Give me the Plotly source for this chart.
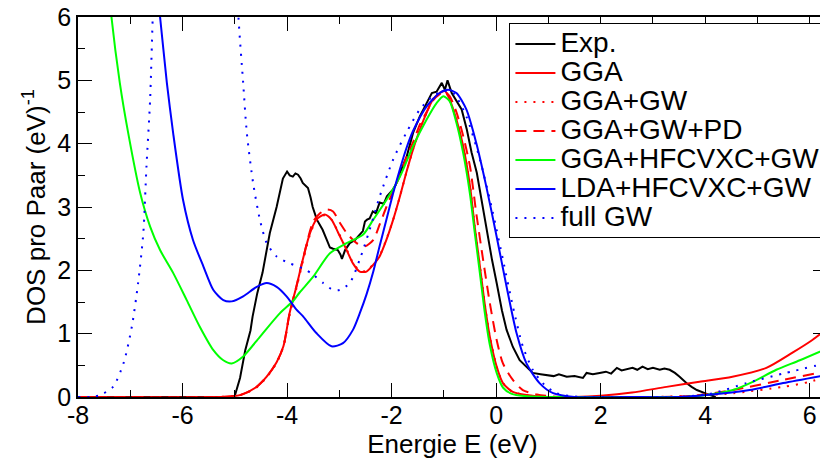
import plotly.graph_objects as go

# ---------------- data ----------------
exp_x = [-8.0, -5.05, -5.0, -4.9, -4.8, -4.7, -4.66, -4.57, -4.47, -4.40, -4.33, -4.20, -4.08, -4.0, -3.95,
         -3.89, -3.84, -3.79, -3.74, -3.70, -3.60, -3.55, -3.51, -3.43, -3.37, -3.32, -3.24, -3.18, -3.12,
         -3.03, -2.98, -2.95, -2.89, -2.80, -2.70, -2.61, -2.55, -2.51, -2.47, -2.42, -2.36, -2.30, -2.23,
         -2.15, -2.09, -1.98, -1.92, -1.84, -1.71, -1.59, -1.46, -1.33, -1.23, -1.14, -1.04, -0.98, -0.93,
         -0.85, -0.75, -0.66, -0.56, -0.47, -0.37, -0.28, -0.18, -0.08, 0.01, 0.11, 0.20, 0.32, 0.45, 0.59,
         0.70, 0.85, 0.97, 1.10, 1.20, 1.35, 1.50, 1.66, 1.73, 1.85, 1.98, 2.10, 2.20, 2.31, 2.40, 2.50,
         2.61, 2.70, 2.80, 2.90, 3.00, 3.13, 3.22, 3.32, 3.42, 3.51, 3.64, 3.74, 3.84, 4.03, 4.14, 4.20]
exp_y = [0.0, 0.0, 0.02, 0.30, 0.74, 1.05, 1.27, 1.64, 1.96, 2.27, 2.59, 3.00, 3.45, 3.56, 3.50,
         3.48, 3.53, 3.51, 3.45, 3.38, 3.30, 3.15, 3.00, 2.80, 2.72, 2.64, 2.48, 2.36, 2.34,
         2.32, 2.25, 2.18, 2.32, 2.43, 2.48, 2.56, 2.62, 2.77, 2.80, 2.82, 2.93, 2.90, 3.07,
         3.05, 3.17, 3.27, 3.35, 3.54, 3.80, 4.17, 4.43, 4.64, 4.80, 4.82, 4.96, 4.85, 5.00,
         4.80, 4.67, 4.54, 4.22, 3.86, 3.54, 3.11, 2.59, 2.17, 1.80, 1.37, 1.06, 0.79, 0.58, 0.46,
         0.38, 0.36, 0.35, 0.33, 0.36, 0.32, 0.33, 0.30, 0.38, 0.36, 0.38, 0.40, 0.37, 0.46, 0.42, 0.44,
         0.46, 0.43, 0.48, 0.44, 0.46, 0.43, 0.45, 0.43, 0.38, 0.32, 0.22, 0.16, 0.11, 0.05, 0.02, 0.0]

gga_x = [-8.0, -5.3, -4.9, -4.6, -4.39, -4.2, -4.07, -3.95, -3.82, -3.69, -3.56, -3.44, -3.28, -3.15,
         -3.02, -2.86, -2.74, -2.61, -2.48, -2.35, -2.23, -2.10, -1.97, -1.84, -1.72, -1.59, -1.46, -1.33,
         -1.21, -1.08, -0.98, -0.89, -0.76, -0.63, -0.50, -0.41, -0.31, -0.22, -0.12, 0.01, 0.13, 0.32,
         0.58, 1.0, 1.5, 2.0, 2.6, 3.26, 3.89, 4.52, 5.17, 5.67, 6.05, 6.4]
gga_y = [0.0, 0.0, 0.03, 0.15, 0.32, 0.55, 0.80, 1.33, 1.75, 2.20, 2.59, 2.80, 2.88, 2.80,
         2.59, 2.32, 2.11, 1.98, 1.98, 2.09, 2.22, 2.48, 2.80, 3.17, 3.54, 3.91, 4.22, 4.49,
         4.70, 4.80, 4.83, 4.70, 4.38, 3.96, 3.33, 2.69, 2.06, 1.48, 0.95, 0.48, 0.22, 0.08,
         0.03, 0.0, 0.0, 0.02, 0.07, 0.16, 0.24, 0.32, 0.46, 0.70, 0.90, 1.12]

ggagw_x = [-8.0, -5.3, -4.9, -4.6, -4.39, -4.2, -4.07, -3.95, -3.82, -3.69, -3.56, -3.44, -3.28, -3.15,
           -3.02, -2.86, -2.74, -2.61, -2.48, -2.35, -2.23, -2.10, -1.97, -1.84, -1.72, -1.59, -1.46, -1.33,
           -1.21, -1.08, -0.98, -0.89, -0.76, -0.63, -0.50, -0.41, -0.31, -0.22, -0.12, 0.01, 0.13, 0.32,
           0.58, 1.0, 2.0, 3.0, 3.8, 4.53, 5.49, 6.0, 6.4]
ggagw_y = [0.0, 0.0, 0.03, 0.14, 0.31, 0.54, 0.80, 1.30, 1.72, 2.17, 2.57, 2.79, 2.87, 2.80,
           2.60, 2.33, 2.12, 1.99, 1.99, 2.10, 2.23, 2.49, 2.80, 3.17, 3.54, 3.91, 4.22, 4.49,
           4.70, 4.80, 4.83, 4.70, 4.38, 3.96, 3.33, 2.69, 2.06, 1.48, 0.95, 0.48, 0.22, 0.08,
           0.03, 0.0, 0.0, 0.0, 0.02, 0.06, 0.16, 0.24, 0.34]

ggagwpd_x = [-8.0, -5.3, -4.9, -4.6, -4.39, -4.2, -4.07, -3.95, -3.82, -3.69, -3.50, -3.37, -3.24, -3.12,
             -2.99, -2.86, -2.67, -2.51, -2.35, -2.23, -2.10, -1.97, -1.84, -1.72, -1.59, -1.46, -1.33,
             -1.21, -1.08, -0.98, -0.89, -0.76, -0.63, -0.50, -0.38, -0.25, -0.12, 0.01, 0.13, 0.32,
             0.51, 0.78, 1.2, 2.0, 3.0, 3.8, 4.53, 5.49, 6.4]
ggagwpd_y = [0.0, 0.0, 0.03, 0.15, 0.32, 0.55, 0.80, 1.33, 1.75, 2.20, 2.77, 2.90, 2.96, 2.93,
             2.75, 2.59, 2.43, 2.38, 2.48, 2.72, 3.00, 3.25, 3.50, 3.78, 4.02, 4.30, 4.50,
             4.68, 4.78, 4.82, 4.75, 4.50, 4.12, 3.64, 2.90, 2.17, 1.48, 0.90, 0.53, 0.27,
             0.11, 0.04, 0.0, 0.0, 0.0, 0.02, 0.11, 0.27, 0.42]

ghf_x = [-7.5, -7.36, -7.20, -7.04, -6.81, -6.62, -6.43, -6.18, -5.92, -5.67, -5.41, -5.22, -5.06, -4.84,
         -4.52, -4.14, -3.88, -3.76, -3.50, -3.18, -2.86, -2.55, -2.35, -2.10, -1.84, -1.59, -1.33, -1.14,
         -1.01, -0.89, -0.76, -0.63, -0.50, -0.41, -0.31, -0.22, -0.12, 0.01, 0.13, 0.30, 0.60, 1.0, 2.0,
         3.0, 3.6, 4.02, 4.53, 4.91, 5.36, 5.81, 6.4]
ghf_y = [7.3, 6.0, 4.96, 4.17, 3.22, 2.69, 2.32, 1.96, 1.53, 1.11, 0.74, 0.58, 0.53, 0.64,
         0.95, 1.32, 1.52, 1.65, 1.90, 2.27, 2.43, 2.56, 2.80, 3.11, 3.48, 3.96, 4.38, 4.64,
         4.75, 4.67, 4.33, 3.85, 3.20, 2.60, 1.95, 1.35, 0.82, 0.38, 0.15, 0.05, 0.01, 0.0, 0.0,
         0.0, 0.0, 0.03, 0.11, 0.24, 0.43, 0.58, 0.79]

lhf_x = [-6.6, -6.43, -6.30, -6.18, -5.99, -5.80, -5.60, -5.41, -5.22, -5.06, -4.84, -4.58, -4.39, -4.20,
         -4.01, -3.82, -3.69, -3.44, -3.15, -2.93, -2.74, -2.61, -2.48, -2.35, -2.23, -2.10, -1.97, -1.84,
         -1.72, -1.59, -1.33, -1.08, -0.92, -0.76, -0.57, -0.38, -0.19, 0.01, 0.20, 0.39, 0.58, 0.83, 1.09,
         1.5, 2.5, 3.5, 4.02, 4.85, 5.49, 6.4]
lhf_y = [7.2, 6.0, 4.96, 4.17, 3.11, 2.48, 2.06, 1.69, 1.53, 1.51, 1.59, 1.74, 1.80, 1.74,
         1.59, 1.38, 1.27, 1.01, 0.80, 0.85, 1.06, 1.32, 1.62, 1.98, 2.38, 2.80, 3.22, 3.60,
         3.92, 4.20, 4.59, 4.80, 4.85, 4.80, 4.54, 4.01, 3.33, 2.53, 1.74, 1.01, 0.53, 0.22, 0.06,
         0.0, 0.0, 0.0, 0.03, 0.11, 0.22, 0.36]

fgw_x = [-8.0, -7.75, -7.58, -7.33, -7.13, -6.97, -6.85, -6.75, -6.69, -6.62, -6.57, -6.45, -5.75, -5.05,
         -4.93, -4.84, -4.77, -4.65, -4.52, -4.39, -4.20, -3.95, -3.69, -3.50, -3.31, -3.12, -2.99, -2.80,
         -2.61, -2.42, -2.23, -1.97, -1.72, -1.46, -1.21, -1.01, -0.82, -0.57, -0.31, -0.06, 0.13, 0.32,
         0.51, 0.70, 0.89, 1.15, 1.6, 2.5, 3.5, 4.15, 4.79, 5.49, 6.4]
fgw_y = [0.0, 0.0, 0.03, 0.16, 0.53, 1.11, 1.80, 2.59, 3.64, 4.70, 6.0, 8.5, 14.0, 8.5,
         6.0, 4.96, 4.17, 3.38, 2.80, 2.43, 2.22, 2.11, 2.03, 1.93, 1.80, 1.69, 1.69, 1.80,
         2.17, 2.64, 3.16, 3.75, 4.17, 4.54, 4.75, 4.83, 4.80, 4.43, 3.75, 2.90, 2.17, 1.43,
         0.80, 0.43, 0.22, 0.06, 0.0, 0.0, 0.0, 0.06, 0.22, 0.37, 0.55]

x_tickvals = [-8, -6, -4, -2, 0, 2, 4, 6]
x_ticktext = ["-8", "-6", "-4", "-2", "0", "2", "4", "6"]
y_tickvals = [0, 1, 2, 3, 4, 5, 6]
y_ticktext = ["0", "1", "2", "3", "4", "5", "6"]

series = [
    ("Exp.", exp_x, exp_y, "#000000", "solid", "linear"),
    ("GGA", gga_x, gga_y, "#ff0000", "solid", "spline"),
    ("GGA+GW", ggagw_x, ggagw_y, "#ff0000", "2px,7px", "spline"),
    ("GGA+GW+PD", ggagwpd_x, ggagwpd_y, "#ff0000", "11px,7px", "spline"),
    ("GGA+HFCVXC+GW", ghf_x, ghf_y, "#00ff00", "solid", "spline"),
    ("LDA+HFCVXC+GW", lhf_x, lhf_y, "#0000ff", "solid", "spline"),
    ("full GW", fgw_x, fgw_y, "#0000ff", "2px,7px", "spline"),
]

LEGEND_TEXT_PX = 28
fig = go.Figure()
for name, xs, ys, col, dash, shape in series:
    line = dict(color=col, width=2, dash=dash, shape=shape)
    if shape == "spline":
        line["smoothing"] = 0.7
    fig.add_trace(go.Scatter(
        x=xs, y=ys, mode="lines",
        name='<span style="font-size:%dpx">%s</span>' % (LEGEND_TEXT_PX, name),
        line=line))

FONT = "Liberation Sans, Arial, sans-serif"
axis_common = dict(ticks="inside", ticklen=14, tickwidth=1, tickcolor="black",
                   showline=True, linecolor="black", linewidth=1.5, mirror="ticks",
                   showgrid=False, zeroline=False, automargin=False,
                   ticklabeloverflow="allow",
                   tickfont=dict(size=25, family=FONT, color="black"))
# the page body adds an 8px offset, so the figure is 8px smaller than the window
fig.update_layout(
    width=820, height=451,
    margin=dict(l=70, r=1, t=9, b=62),
    plot_bgcolor="white", paper_bgcolor="white",
    font=dict(family=FONT, color="black", size=25),
    showlegend=True,
    legend=dict(x=0.576, y=0.983, xanchor="left", yanchor="top",
                bgcolor="white", bordercolor="black", borderwidth=1,
                font=dict(family=FONT, size=20, color="black"),
                tracegroupgap=0, itemwidth=40),
    xaxis=dict(range=[-8, 6.33], tickmode="array", tickvals=x_tickvals, ticktext=x_ticktext,
               ticklabelstandoff=-5,
               minor=dict(dtick=1, tick0=0, ticks="inside", ticklen=7, tickcolor="black", showgrid=False),
               title=dict(text="Energie E (eV)", font=dict(size=26), standoff=8),
               **axis_common),
    yaxis=dict(range=[0, 6], tickmode="array", tickvals=y_tickvals, ticktext=y_ticktext,
               minor=dict(dtick=0.5, tick0=0, ticks="inside", ticklen=7, tickcolor="black", showgrid=False),
               title=dict(text="DOS pro Paar (eV)<sup>-1</sup>", font=dict(size=26), standoff=4),
               **axis_common),
)

fig.write_html("out.html")
